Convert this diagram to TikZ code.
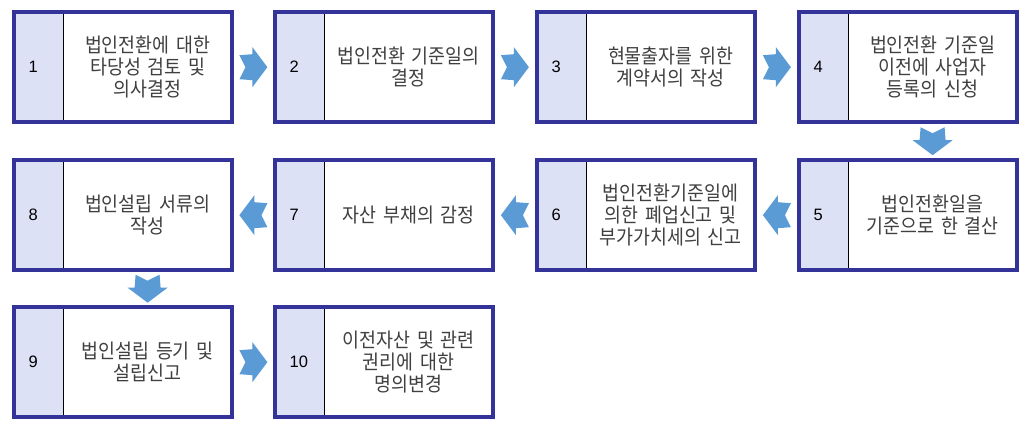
\documentclass[tikz,border=0pt]{standalone}
\usepackage{fontspec}
\setmainfont{Liberation Sans}
\newfontfamily\krfont[FakeStretch=0.92, WordSpace=2]{Noto Sans CJK KR}
\definecolor{framecol}{HTML}{333399}
\definecolor{lav}{HTML}{DDE1F6}
\definecolor{arrowcol}{HTML}{5B9BD5}
\definecolor{txtcol}{HTML}{404040}
\tikzset{
  numcell/.style={anchor=north west, minimum width=49pt, minimum height=110pt,
    text width=49pt, inner sep=0pt, align=left, fill=lav, text=black,
    font=\fontsize{16.5}{20}\selectfont},
  txtcell/.style={anchor=north west, minimum width=168pt, minimum height=110pt,
    text width=166pt, inner xsep=1pt, inner ysep=0pt, align=center, fill=white, text=txtcol,
    font=\krfont\fontsize{20}{22}\selectfont},
  frameline/.style={draw=framecol, line width=4pt},
  divider/.style={draw=black, line width=1pt},
  arrowfill/.style={fill=arrowcol}
}
\newcommand\flowbox[4]{%
  \node[numcell] (#1n) at (#2) {\hspace*{14.5pt}#3};
  \node[txtcell] (#1t) at (#1n.north east) {#4};
  \draw[divider] (#1n.north east) -- (#1n.south east);
  \draw[frameline] (#1n.north west) rectangle (#1t.south east);
}
\newcommand\blockarrow[2]{%
  \fill[arrowfill, shift={(#1)}, rotate=#2]
    (-14,-12) -- (-1,-13) -- (-1,-20) -- (14,0) -- (-1,20) -- (-1,13) -- (-14,12) -- (-8,0) -- cycle;
}
\begin{document}
\begin{tikzpicture}[x=1pt, y=-1pt]
\useasboundingbox (0,0) rectangle (1031,427);
% row 1
\flowbox{b1}{14,12}{1}{법인전환에 대한\\타당성 검토 및\\의사결정}
\flowbox{b2}{275,12}{2}{법인전환 기준일의\\결정}
\flowbox{b3}{537,12}{3}{현물출자를 위한\\계약서의 작성}
\flowbox{b4}{799,12}{4}{법인전환 기준일\\이전에 사업자\\등록의 신청}
% row 2
\flowbox{b5}{799,160}{5}{법인전환일을\\기준으로 한 결산}
\flowbox{b6}{537,160}{6}{법인전환기준일에\\의한 폐업신고 및\\부가가치세의 신고}
\flowbox{b7}{275,160}{7}{자산 부채의 감정}
\flowbox{b8}{14,160}{8}{법인설립 서류의\\작성}
% row 3
\flowbox{b9}{14,307}{9}{법인설립 등기 및\\설립신고}
\flowbox{b10}{275,307}{10}{이전자산 및 관련\\권리에 대한\\명의변경}
% connector positions
\path (b1t.east) -- (b2n.west) coordinate[pos=0.5] (a12);
\path (b2t.east) -- (b3n.west) coordinate[pos=0.5] (a23);
\path (b3t.east) -- (b4n.west) coordinate[pos=0.5] (a34);
\path (b4t.south) -- (b5t.north) coordinate[pos=0.5] (a45);
\path (b5n.west) -- (b6t.east) coordinate[pos=0.5] (a56);
\path (b6n.west) -- (b7t.east) coordinate[pos=0.5] (a67);
\path (b7n.west) -- (b8t.east) coordinate[pos=0.5] (a78);
\path (b8t.south) -- (b9t.north) coordinate[pos=0.5] (a89);
\path (b9t.east) -- (b10n.west) coordinate[pos=0.5] (a910);
\blockarrow{a12}{0}
\blockarrow{a23}{0}
\blockarrow{a34}{0}
\blockarrow{a45}{-90}
\blockarrow{a56}{180}
\blockarrow{a67}{180}
\blockarrow{a78}{180}
\blockarrow{a89}{-90}
\blockarrow{a910}{0}
\end{tikzpicture}
\end{document}
